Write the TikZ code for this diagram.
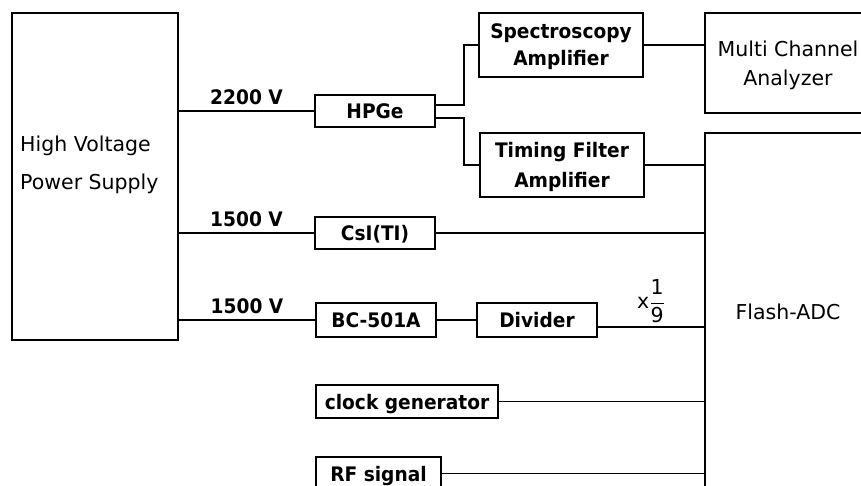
\documentclass[tikz,border=0pt]{standalone}
\usepackage{fontspec}
\setmainfont{DejaVu Sans}
\newfontfamily\boxfont{DejaVu Sans Bold}[FakeStretch=0.93]
\begin{document}
\begin{tikzpicture}[x=1pt,y=-1pt,
  every node/.style={font=\fontsize{20.5}{25}\selectfont},
  blk/.style={draw,line width=1.6pt,inner sep=0pt,text depth=0pt,font=\fontsize{20}{25}\boxfont},
  big/.style={draw,line width=1.6pt,inner sep=0pt},
  txt/.style={inner sep=0pt,anchor=base},
  wire/.style={line width=1.6pt},
  volt/.style={inner sep=0pt,anchor=base,yshift=6.5pt,midway,font=\fontsize{20}{25}\boxfont}]
\clip (0,0) rectangle (861,486);
% big boxes
\node[big,minimum width=166pt,minimum height=327pt] (hv) at (95,176.5) {};
\node[txt,anchor=base west] (hvt1) at (20,152) {High Voltage};
\node[txt,anchor=base west] (hvt2) at (20,190) {Power Supply};
\node[big,minimum width=166pt,minimum height=100pt] (mca) at (788,63) {};
\node[txt] (mcat1) at (788,57) {Multi Channel};
\node[txt] (mcat2) at (788,86) {Analyzer};
\node[big,minimum width=166pt,minimum height=359pt] (fadc) at (788,312.5) {};
\node[txt] (fadct) at (788,319) {Flash-ADC};
% small boxes
\node[blk,minimum width=120pt,minimum height=32pt] (hpge) at (375,111) {HPGe};
\node[blk,minimum width=164pt,minimum height=64pt,align=center] (spec) at (561,45) {Spectroscopy\\[2pt]Amplifier};
\node[blk,minimum width=164pt,minimum height=64pt,align=center] (tfa) at (562,165) {Timing Filter\\[5pt]Amplifier};
\node[blk,minimum width=120pt,minimum height=32pt] (csi) at (375,233) {CsI(TI)};
\node[blk,minimum width=120pt,minimum height=34pt] (bc) at (376,320) {BC-501A};
\node[blk,minimum width=120pt,minimum height=34pt] (div) at (537,320) {Divider};
\node[blk,minimum width=182pt,minimum height=33pt] (clk) at (407,401.5) {clock generator};
\node[blk,minimum width=125pt,minimum height=33pt] (rf) at (378.5,473.5) {RF signal};
% wires
\draw[wire] (hv.east |- hpge) -- node[volt] (v1) {2200 V} (hpge.west);
\draw[wire] (hv.east |- csi) -- node[volt] (v2) {1500 V} (csi.west);
\draw[wire] (hv.east |- bc) -- node[volt] (v3) {1500 V} (bc.west);
\draw[wire] ([yshift=6pt]hpge.east) -- ++(28,0) |- (spec.west);
\draw[wire] ([yshift=-7pt]hpge.east) -- ++(28,0) |- (tfa.west);
\draw[wire] (spec.east) -- (spec.east -| mca.west);
\draw[wire] (tfa.east) -- (tfa.east -| fadc.west);
\draw[wire] (csi.east) -- (csi.east -| fadc.west);
\draw[wire] (bc.east) -- (div.west);
\draw[wire] ([yshift=-7pt]div.east) coordinate (dout) -- (dout -| fadc.west);
\draw[wire] (clk.east) -- (clk.east -| fadc.west);
\draw[wire] (rf.east) -- (rf.east -| fadc.west);
\node[inner sep=0pt] (frac) at (651,301) {$\mbox{x}\displaystyle\frac{\mbox{1}}{\mbox{9}}$};
\end{tikzpicture}
\end{document}
